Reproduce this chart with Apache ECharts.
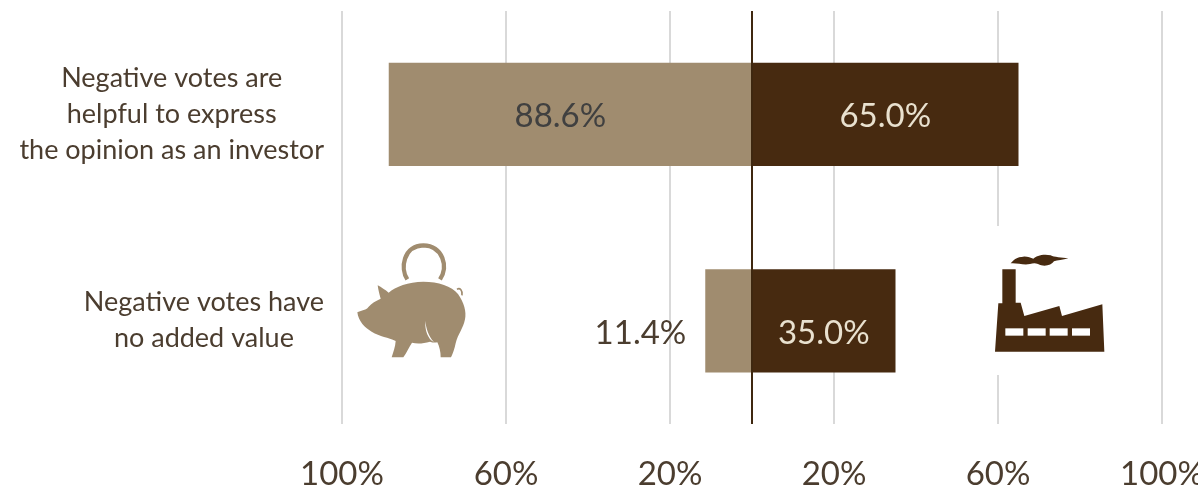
<!DOCTYPE html>
<html>
<head>
<meta charset="utf-8">
<style>html,body{margin:0;padding:0;background:#fff}#chart{width:1198px;height:488px}</style>
<script src="https://cdn.jsdelivr.net/npm/echarts@6/dist/echarts.min.js"></script>
</head>
<body>
<div id="chart"></div>
<script>
const categories = ['Negative votes are\nhelpful to express\nthe opinion as an investor', 'Negative votes have\nno added value'];
const privateInvestors = [88.6, 11.4];
const institutionalInvestors = [65.0, 35.0];

const TEXT = '#4b3d2f', TAN = '#a08c6f', BROWN = '#472a10', FONT = 'Lato';

// Icons are drawn in a 3x local space and scaled down
const iconPaths = {
  pigBody: 'M52 247 C62 240 76 243 86 230 C94 220 108 212 122 206 C118 192 115 180 113 166 C124 172 136 180 146 188 C166 170 205 155 250 155 C295 155 335 168 354 192 C372 218 380 245 375 268 C370 295 354 312 347 340 C343 358 339 370 333 382 L302 382 C302 365 298 350 292 337 C285 338 278 338 270 335 C250 341 230 342 216 338 C208 350 200 368 190 382 L155 382 C160 365 166 350 167 333 C145 322 120 320 95 305 C75 294 55 274 52 247 Z',
  pigCrease: 'M256 272 C258 295 266 320 282 336 C264 328 254 300 256 272 Z',
  pigRing: 'M202 148 C180 115 190 48 250 46 C310 48 325 110 300 148',
  pigTail: 'M351 178 C360 172 368 182 366 196',
  factoryBody: 'M45 335 L55 190 L67 190 L67 88 L107 88 L107 188 L122 188 L133 228 L238 198 L246 228 L367 193 L373 335 Z',
  factorySmoke: 'M92 70 C100 60 112 50 130 50 C142 49 152 54 160 56 C168 48 190 40 212 46 C222 52 245 52 265 55 C248 60 232 60 222 64 C214 76 192 82 174 72 C164 68 158 70 150 72 C130 76 110 68 92 70 Z'
};
const factoryWindows = [76, 143, 209, 276];

Object.keys(iconPaths).forEach(name => {
  echarts.graphic.registerShape(name, echarts.graphic.extendPath(iconPaths[name], {}));
});

const icon = (type, style) => ({ type, style, z: 6 });

const chart = echarts.init(document.getElementById('chart'), null, { renderer: 'canvas' });
chart.setOption({
  animation: false,
  backgroundColor: '#fff',
  textStyle: { fontFamily: FONT },
  grid: { left: 342, right: 36, top: 11, bottom: 64, containLabel: false, outerBoundsMode: 'none' },
  xAxis: {
    type: 'value', min: -100, max: 100, interval: 40,
    axisLine: { show: false }, axisTick: { show: false },
    splitLine: { show: true, lineStyle: { color: '#d9d9d9', width: 2 } },
    axisLabel: {
      show: true, margin: 34, color: TEXT, fontSize: 33, fontFamily: FONT,
      showMinLabel: true, showMaxLabel: true, hideOverlap: false,
      formatter: v => Math.abs(v) + '%'
    }
  },
  yAxis: {
    type: 'category', inverse: true, data: categories,
    axisLine: { show: false }, axisTick: { show: false },
    axisLabel: {
      margin: 18, color: TEXT, fontFamily: FONT,
      formatter: v => v.split('\n').map(s => '{l|' + s + '}').join('\n'),
      rich: { l: { align: 'center', fontSize: 27, lineHeight: 36, color: TEXT, fontFamily: FONT } }
    }
  },
  series: [
    {
      name: 'Private investors', type: 'bar', stack: 'share', barWidth: '50%',
      itemStyle: { color: TAN },
      data: privateInvestors.map((v, i) => ({
        value: -v,
        label: i === 0
          ? { position: 'inside', offset: [-10, 2], color: '#404040' }
          : { position: 'left', distance: 19, offset: [0, 13], color: TEXT }
      })),
      label: { show: true, fontSize: 33, fontFamily: FONT, formatter: p => Math.abs(p.value).toFixed(1) + '%' },
      markLine: {
        silent: true, symbol: 'none', animation: false, label: { show: false },
        lineStyle: { color: '#3f2810', width: 2, type: 'solid' },
        data: [{ xAxis: 0 }], z: 10
      }
    },
    {
      name: 'Institutional investors', type: 'bar', stack: 'share', barWidth: '50%',
      itemStyle: { color: BROWN },
      data: institutionalInvestors.map((v, i) => ({
        value: v,
        label: { offset: [0, i === 0 ? 2 : 13] }
      })),
      label: { show: true, position: 'inside', color: '#e9e1cf', fontSize: 33, fontFamily: FONT, formatter: p => p.value.toFixed(1) + '%' }
    }
  ],
  graphic: [
    { type: 'rect', z: 5, x: 985, y: 226, shape: { width: 135, height: 149 }, style: { fill: '#fff' } },
    {
      type: 'group', x: 340, y: 230, scaleX: 1 / 3, scaleY: 1 / 3,
      children: [
        icon('pigBody', { fill: TAN }),
        { ...icon('pigCrease', { fill: '#fff' }), z: 7 },
        icon('pigRing', { fill: 'none', stroke: TAN, lineWidth: 13 }),
        icon('pigTail', { fill: 'none', stroke: TAN, lineWidth: 5 })
      ]
    },
    {
      type: 'group', x: 980, y: 240, scaleX: 1 / 3, scaleY: 1 / 3,
      children: [
        icon('factoryBody', { fill: BROWN }),
        icon('factorySmoke', { fill: BROWN }),
        ...factoryWindows.map(x => ({ type: 'rect', z: 7, shape: { x, y: 265, width: 54, height: 22 }, style: { fill: '#fff' } }))
      ]
    }
  ]
});
</script>
</body>
</html>
